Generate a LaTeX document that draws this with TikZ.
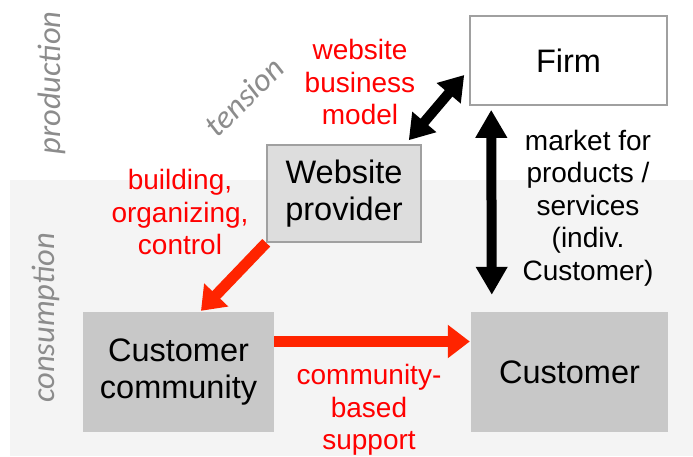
\documentclass[tikz,border=0pt]{standalone}
\usepackage{fontspec}
\setmainfont{Liberation Sans}
\newfontfamily\notefont{Carlito}
\usetikzlibrary{arrows.meta,calc}

\definecolor{bandgray}{HTML}{F4F4F4}
\definecolor{boxline}{HTML}{A0A0A0}
\definecolor{lightbox}{HTML}{DDDDDD}
\definecolor{darkbox}{HTML}{C8C8C8}
\definecolor{flowred}{RGB}{255,36,0}
\definecolor{notegray}{HTML}{8C8C8C}

\begin{document}
\begin{tikzpicture}[x=1pt,y=1pt,
  actor/.style={inner sep=0pt, align=center,
    font={\fontsize{32.5}{37}\selectfont}},
  outlined/.style={actor, draw=boxline, line width=1.6pt},
  lbl/.style={inner sep=0pt, align=center,
    font={\fontsize{28}{32.5}\selectfont}},
  redlbl/.style={lbl, text=red},
  note/.style={inner sep=0pt, text=notegray,
    font={\notefont\itshape\fontsize{32.5}{36}\selectfont}},
  bigarrow/.style={line width=10pt,
    {Triangle[length=24pt,width=30pt]}-{Triangle[length=24pt,width=30pt]}},
  vertarrow/.style={line width=10pt,
    {Triangle[length=28pt,width=30pt]}-{Triangle[length=28pt,width=30pt]}},
  flow/.style={draw=flowred, line width=11pt,
    -{Triangle[length=22pt,width=32pt]}}]

% canvas and consumption band
\fill[white] (0,0) rectangle (693,-456);
\useasboundingbox (0,0) rectangle (693,-456);
\fill[bandgray] (10,-180) rectangle (693,-456);

% side notes
\node[note, rotate=90] (prod) at (52,-83) {production};
\node[note, rotate=90] (cons) at (46,-318) {consumption};
\node[note, rotate=45] (tens) at (244,-97) {tension};

% actors
\node[outlined, fill=white, minimum width=197, minimum height=89]
  (firm) at (568.5,-60.5) {Firm};
\node[outlined, fill=lightbox, minimum width=154, minimum height=97]
  (wp) at (344,-193.5) {Website\\provider};
\node[actor, fill=darkbox, minimum width=191, minimum height=120]
  (cc) at (178.5,-372) {Customer\\community};
\node[actor, fill=darkbox, minimum width=197, minimum height=120]
  (cust) at (569.5,-372) {Customer};

% relations
\draw[bigarrow] ($(wp.north east)+(-13,4)$) -- ($(firm.west)+(-5,-14.5)$);
\draw[vertarrow] ($(firm.south west)+(22,-4)$) -- ($(cust.north west)+(21,17)$);
\draw[flow] (wp.south west) -- ($(cc.north)+(22.5,1)$);
\draw[flow] ($(cc.east)+(0,30.5)$) -- ($(cust.west)+(-1,30.5)$);

% labels
\node[redlbl] (bizlbl) at (360,-82) {website\\business\\model};
\node[redlbl] (ctrllbl) at (180,-212) {building,\\organizing,\\control};
\node[lbl] (mktlbl) at (588,-208) {market for\\products /\\services\\(indiv.\\Customer)};
\node[redlbl] (suplbl) at (369,-410) {community-\\based\\support};
\end{tikzpicture}
\end{document}
